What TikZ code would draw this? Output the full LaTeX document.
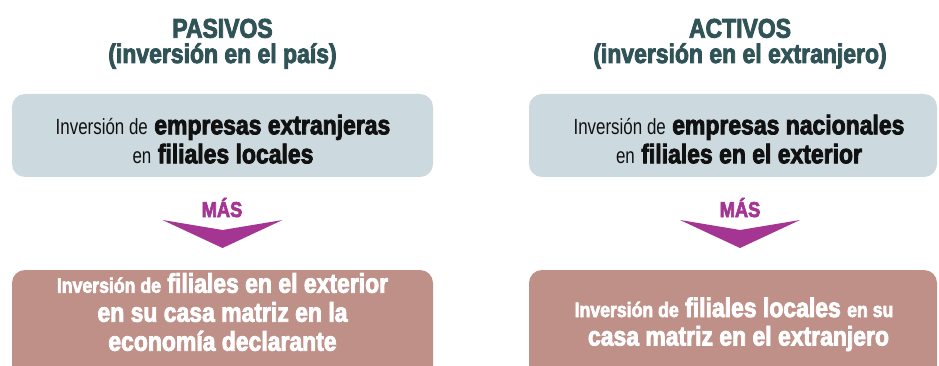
\documentclass[tikz,border=0pt]{standalone}
\usepackage{fontspec}
\setmainfont[FakeStretch=0.85, BoldFeatures={FakeBold=3}]{Liberation Sans}
\newfontfamily\regnarrow[FakeStretch=0.77]{Liberation Sans}
\usetikzlibrary{calc}
\definecolor{headc}{HTML}{2F5356}
\definecolor{masc}{HTML}{A43593}
\definecolor{topboxc}{HTML}{CCDADF}
\definecolor{botboxc}{HTML}{BE9088}
\definecolor{txtc}{HTML}{111111}
\newcommand\szS{\fontsize{20.8}{29}\selectfont}
\newcommand\szR{\regnarrow\fontsize{22}{29}\selectfont}
\begin{document}
\begin{tikzpicture}[x=1pt,y=-1pt,
  head/.style={font=\bfseries\fontsize{27}{29}\selectfont, text=headc, inner sep=0pt, anchor=base},
  tline/.style={inner sep=0pt, anchor=base, text=txtc, font=\fontsize{27}{29}\selectfont},
  bline/.style={inner sep=0pt, anchor=base, text=white, font=\bfseries\fontsize{27}{29}\selectfont},
  topb/.style={fill=topboxc, rounded corners=13pt, draw=none, inner sep=0pt},
  botb/.style={fill=botboxc, rounded corners=13pt, draw=none, inner sep=0pt},
  mas/.style={font=\bfseries\fontsize{21.5}{22}\selectfont, text=masc, inner sep=0pt, anchor=base},
  chev/.style={fill=masc, draw=none}]
\clip (0,0) rectangle (939,366);
\fill[white] (0,0) rectangle (939,366);

% boxes
\node[topb, minimum width=421pt, minimum height=83pt] (lt) at (222.5,135.5) {};
\node[topb, minimum width=408pt, minimum height=83pt] (rt) at (733,135.5) {};
\node[botb, minimum width=421pt, minimum height=130pt] (lb) at (222.5,335) {};
\node[botb, minimum width=408pt, minimum height=130pt] (rb) at (733,335) {};

% headings
\node[head] (lh1) at (222.5,37.7) {PASIVOS};
\node[head] (lh2) at (222.5,63) {(inversión en el país)};
\node[head] (rh1) at (740,37.7) {ACTIVOS};
\node[head] (rh2) at (740,63) {(inversión en el extranjero)};

% top box texts
\node[tline] (lt1) at (223,134.3) {{\szR Inversión de} \textbf{empresas extranjeras}};
\node[tline] (lt2) at (223,163.3) {{\szR en} \textbf{filiales locales}};
\node[tline] (rt1) at (739,134.3) {{\szR Inversión de} \textbf{empresas nacionales}};
\node[tline] (rt2) at (739,163.3) {{\szR en} \textbf{filiales en el exterior}};

% MAS + chevrons
\node[mas] (lm) at (222,217) {MÁS};
\node[mas] (rm) at (740,217) {MÁS};
\coordinate (lcn) at (222.5,230);
\coordinate (rcn) at (740,230);
\fill[chev] ($(lcn)+(-60,-10)$) -- (lcn) -- ($(lcn)+(60,-10)$) -- ($(lcn)+(0,18)$) -- cycle;
\fill[chev] ($(rcn)+(-60,-10)$) -- (rcn) -- ($(rcn)+(60,-10)$) -- ($(rcn)+(0,18)$) -- cycle;

% bottom box texts
\node[bline] (lb1) at (222.5,292.7) {{\szS Inversión de} filiales en el exterior};
\node[bline] (lb2) at (222.5,321.7) {en su casa matriz en la};
\node[bline] (lb3) at (222.5,350.7) {economía declarante};
\node[bline] (rb1) at (734,317) {{\szS Inversión de} filiales locales {\szS en su}};
\node[bline] (rb2) at (738.5,345.5) {casa matriz en el extranjero};
\end{tikzpicture}
\end{document}
